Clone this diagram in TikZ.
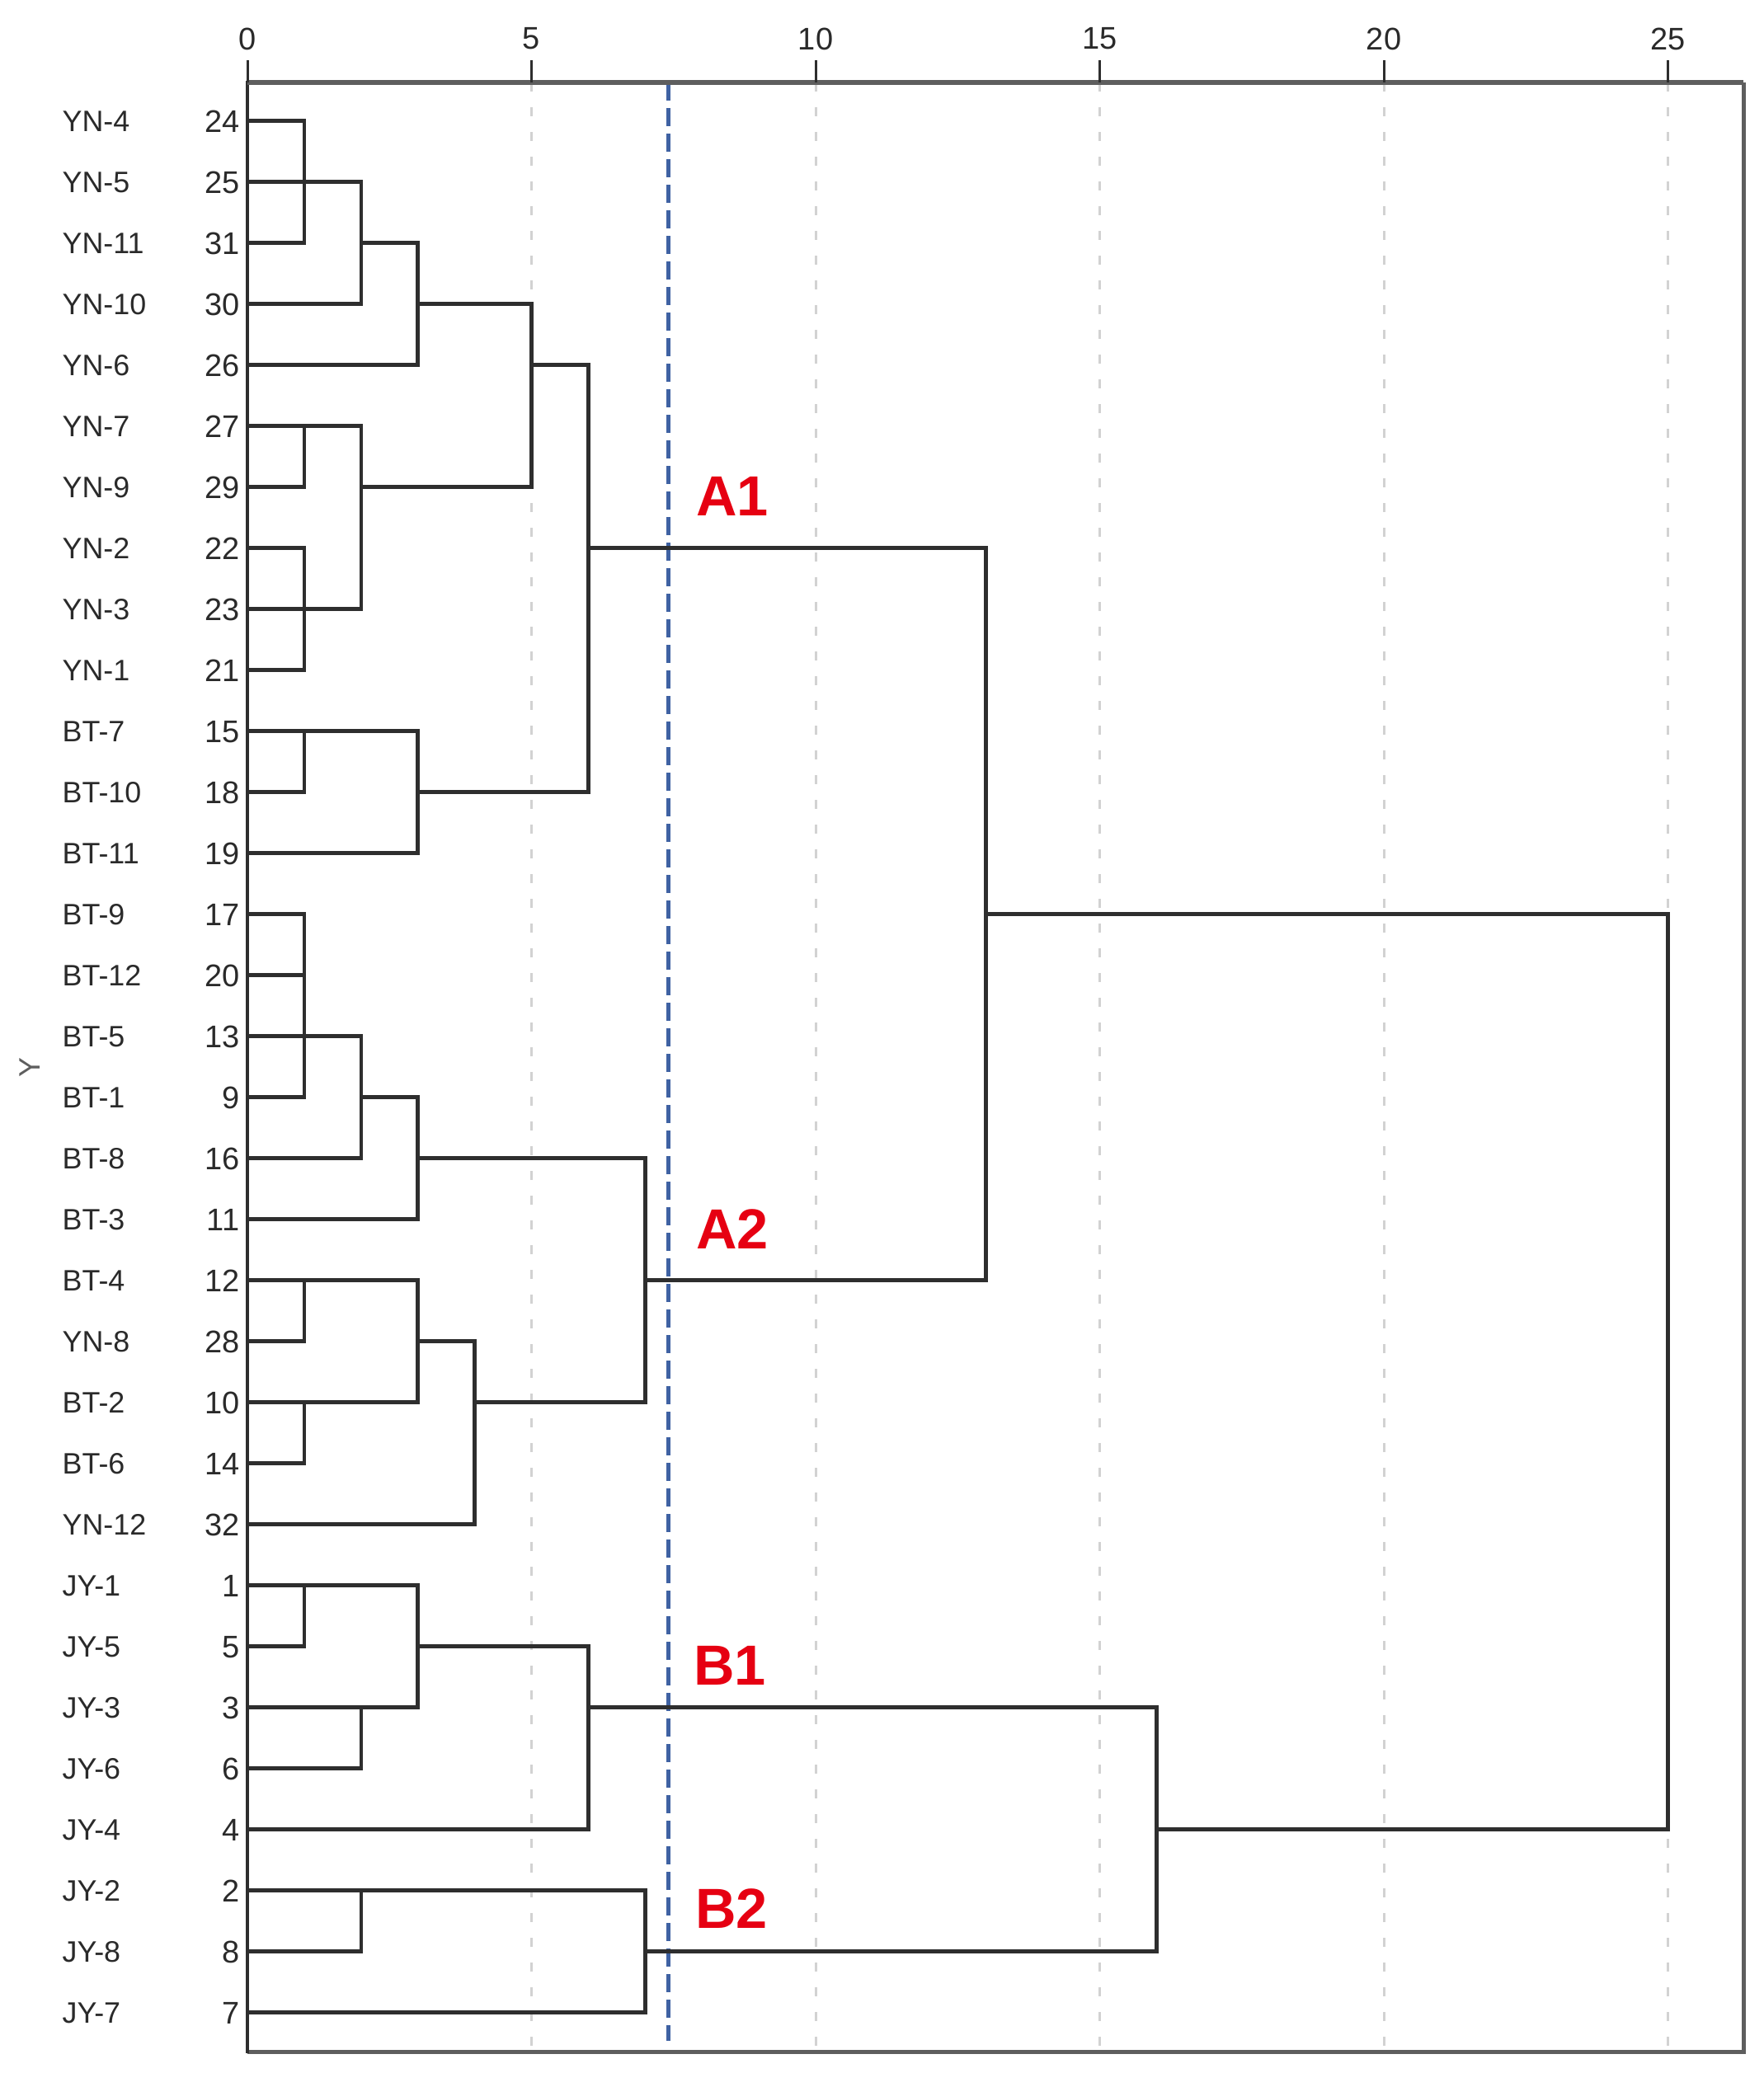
\documentclass[tikz,border=0pt]{standalone}
\usepackage{fontspec}
\setmainfont{Liberation Sans}
\definecolor{ln}{HTML}{2E2E2E}
\definecolor{axc}{HTML}{5E5E5E}
\definecolor{gridc}{HTML}{D2D2D2}
\definecolor{cutc}{HTML}{3F62A3}
\definecolor{grpc}{HTML}{E60012}
\definecolor{txt}{HTML}{2A2A2A}
\tikzset{
  dend/.style={draw=ln, line width=0.045cm, line cap=rect},
  gridln/.style={draw=gridc, line width=0.03cm, dash pattern=on 0.11cm off 0.19cm},
  cutln/.style={draw=cutc, line width=0.05cm, dash pattern=on 0.22cm off 0.09cm},
  frameln/.style={draw=axc, line width=0.05cm},
  topax/.style={draw=axc, line width=0.065cm},
  tickln/.style={draw=ln, line width=0.03cm},
  leafname/.style={anchor=west, inner sep=0pt, text=txt, font=\fontsize{10.2pt}{12pt}\selectfont, text height=0.26cm, text depth=0pt},
  leafnum/.style={anchor=east, inner sep=0pt, text=txt, font=\fontsize{10.8pt}{12pt}\selectfont, text height=0.28cm, text depth=0pt},
  ticklab/.style={inner sep=0pt, text=txt, font=\fontsize{10.8pt}{12pt}\selectfont},
  grp/.style={inner sep=0pt, text=grpc, font=\fontsize{19.5pt}{22pt}\selectfont\bfseries},
  ylab/.style={inner sep=0pt, text=axc, font=\fontsize{10.2pt}{12pt}\selectfont}
}
\begin{document}
\begin{tikzpicture}
\useasboundingbox (0,0) rectangle (21.38,-25.14);
\fill[white] (0,0) rectangle (21.38,-25.14);
% grid lines
\foreach \v in {5,10,15,20,25}
  \draw[gridln] ({3+0.689*\v},-1.0) -- ({3+0.689*\v},-24.88);
% cut line
\coordinate (cuttop) at (8.10,-1.0);
\coordinate (cutbot) at (8.10,-24.75);
\draw[cutln] (cuttop) -- (cutbot);
% frame
\coordinate (fTL) at (3.0,-1.0);
\coordinate (fTR) at (21.14,-1.0);
\coordinate (fBR) at (21.14,-24.88);
\coordinate (fBL) at (3.0,-24.88);
\draw[frameln] (fTR) -- (fBR) -- (fBL);
\draw[dend] (fTL) -- (fBL);
\draw[topax] (fTL) -- (fTR);
% ticks
\foreach \v in {0,5,10,15,20,25} {
  \coordinate (tk\v) at ({3+0.689*\v},-1.0);
  \draw[tickln] (tk\v) -- ++(0,0.27);
  \node[ticklab] (tl\v) at ({3+0.689*\v},-0.47) {\v};
}
% axis label
\node[ylab, rotate=90] (ylab) at (0.36,-12.95) {Y};
% leaf labels
\foreach \nm/\num [count=\i from 0] in {YN-4/24,YN-5/25,YN-11/31,YN-10/30,YN-6/26,YN-7/27,YN-9/29,YN-2/22,YN-3/23,YN-1/21,BT-7/15,BT-10/18,BT-11/19,BT-9/17,BT-12/20,BT-5/13,BT-1/9,BT-8/16,BT-3/11,BT-4/12,YN-8/28,BT-2/10,BT-6/14,YN-12/32,JY-1/1,JY-5/5,JY-3/3,JY-6/6,JY-4/4,JY-2/2,JY-8/8,JY-7/7} {
  \node[leafname] (nm\i) at (0.75,{-1.465-0.74*\i}) {\nm};
  \node[leafnum] (nu\i) at (2.91,{-1.465-0.74*\i}) {\num};
}
% dendrogram
\begin{scope}[shift={(3.0,-1.465)}, x=0.689cm, y=-0.74cm]
  \foreach \r/\a/\b in {0/0/1,1/0/2,2/0/1,2/2/3,3/0/2,3/3/5,4/0/3,4/5/6,5/0/2,6/0/1,6/2/5,7/0/1,7/6/13,8/0/2,9/0/1,
    10/0/3,11/0/1,11/3/6,12/0/3,13/0/1,13/13/25,14/0/1,15/0/2,16/0/1,16/2/3,17/0/2,17/3/7,18/0/3,
    19/0/3,19/7/13,20/0/1,20/3/4,21/0/3,21/4/7,22/0/1,23/0/4,
    24/0/3,25/0/1,25/3/6,26/0/3,26/6/16,27/0/2,28/0/6,28/16/25,29/0/7,30/0/2,30/7/16,31/0/7}
    \draw[dend] (\a,\r) -- (\b,\r);
  \foreach \h/\a/\b in {1/0/2,2/1/3,3/2/4,5/3/6,6/4/11,1/5/6,2/5/8,1/7/9,1/10/11,3/10/12,13/7/19,25/13/28,
    1/13/16,2/15/17,3/16/18,7/17/21,1/19/20,3/19/21,1/21/22,4/20/23,
    1/24/25,3/24/26,2/26/27,6/25/28,16/26/30,2/29/30,7/29/31}
    \draw[dend] (\h,\a) -- (\h,\b);
\end{scope}
% group labels
\node[grp] (A1) at (8.88,-6.02) {A1};
\node[grp] (A2) at (8.88,-14.91) {A2};
\node[grp] (B1) at (8.85,-20.20) {B1};
\node[grp] (B2) at (8.87,-23.15) {B2};
\end{tikzpicture}
\end{document}
